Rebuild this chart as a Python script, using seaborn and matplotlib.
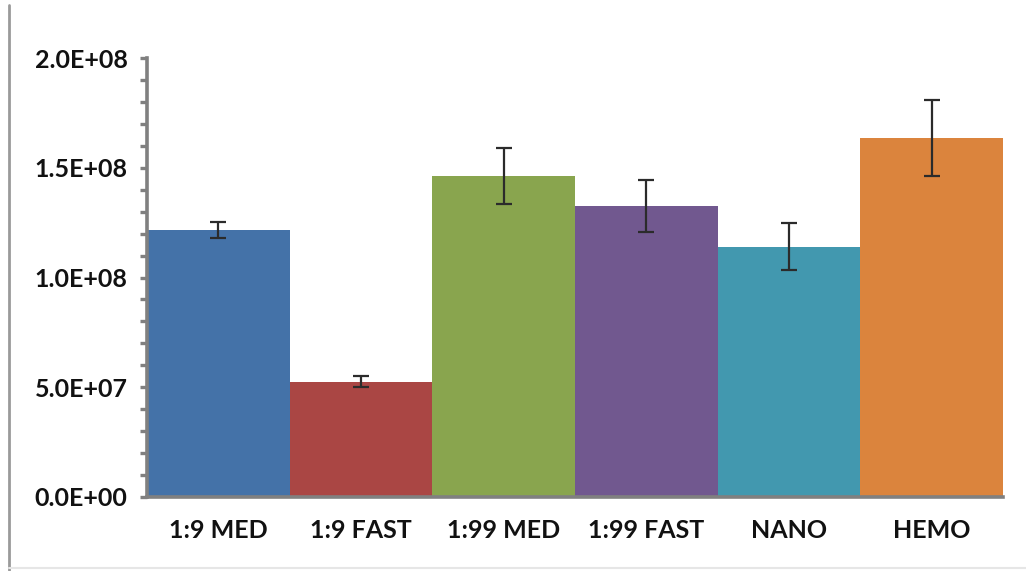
import matplotlib
matplotlib.use("Agg")
import matplotlib.pyplot as plt
import seaborn as sns
import pandas as pd
from matplotlib.ticker import MultipleLocator, FuncFormatter
from matplotlib.lines import Line2D

categories = ["1:9 MED", "1:9 FAST", "1:99 MED", "1:99 FAST", "NANO", "HEMO"]
values = [1.216e8, 0.524e8, 1.462e8, 1.326e8, 1.140e8, 1.636e8]
errors = [0.037e8, 0.025e8, 0.129e8, 0.119e8, 0.108e8, 0.173e8]
colors = ["#4472A8", "#AA4644", "#89A54E", "#71588F", "#4298AF", "#DB843D"]
yticks = [0, 0.5e8, 1.0e8, 1.5e8, 2.0e8]

sns.set_style("white")
plt.rcParams["font.family"] = ["Lato", "DejaVu Sans"]
plt.rcParams["font.weight"] = "bold"

df = pd.DataFrame({"cat": categories, "val": values})

fig = plt.figure(figsize=(10.26, 5.71), dpi=100)
ax = fig.add_axes([147 / 1026, 74 / 571, 856 / 1026, 439 / 571])

sns.barplot(data=df, x="cat", y="val", hue="cat", palette=colors,
            order=categories, hue_order=categories, width=1.0,
            dodge=False, legend=False, ax=ax, saturation=1, linewidth=0)

ax.errorbar(range(len(categories)), values, yerr=errors, fmt="none",
            ecolor="#2b2b2b", elinewidth=1.6, capsize=5.5, capthick=1.6)

ax.set_xlim(-0.5, len(categories) - 0.5)
ax.set_ylim(0, 2.0e8)
ax.set_yticks(yticks)
ax.yaxis.set_minor_locator(MultipleLocator(1e7))
ax.yaxis.set_major_formatter(FuncFormatter(lambda v, p: "%.1E" % v))
ax.set_xlabel("")
ax.set_ylabel("")

for s in ["top", "right"]:
    ax.spines[s].set_visible(False)
for s in ["left", "bottom"]:
    ax.spines[s].set_color("#808080")
    ax.spines[s].set_linewidth(2.6)

ax.tick_params(axis="y", which="both", direction="out", length=5, width=2.4,
               color="#808080", left=True, pad=9, labelsize=18)
ax.tick_params(axis="x", which="both", bottom=False, pad=12, labelsize=18)
for lab in ax.get_yticklabels() + ax.get_xticklabels():
    lab.set_fontweight("bold")
    lab.set_color("#111111")

# image border lines
fig.add_artist(Line2D([9 / 1026, 9 / 1026], [0, 1 - 5 / 571], transform=fig.transFigure,
                      color="#9a9a9a", linewidth=2))
fig.add_artist(Line2D([9 / 1026, 1], [3 / 571, 3 / 571], transform=fig.transFigure,
                      color="#e6e6e6", linewidth=1.5))

fig.savefig("out.png", dpi=100)
